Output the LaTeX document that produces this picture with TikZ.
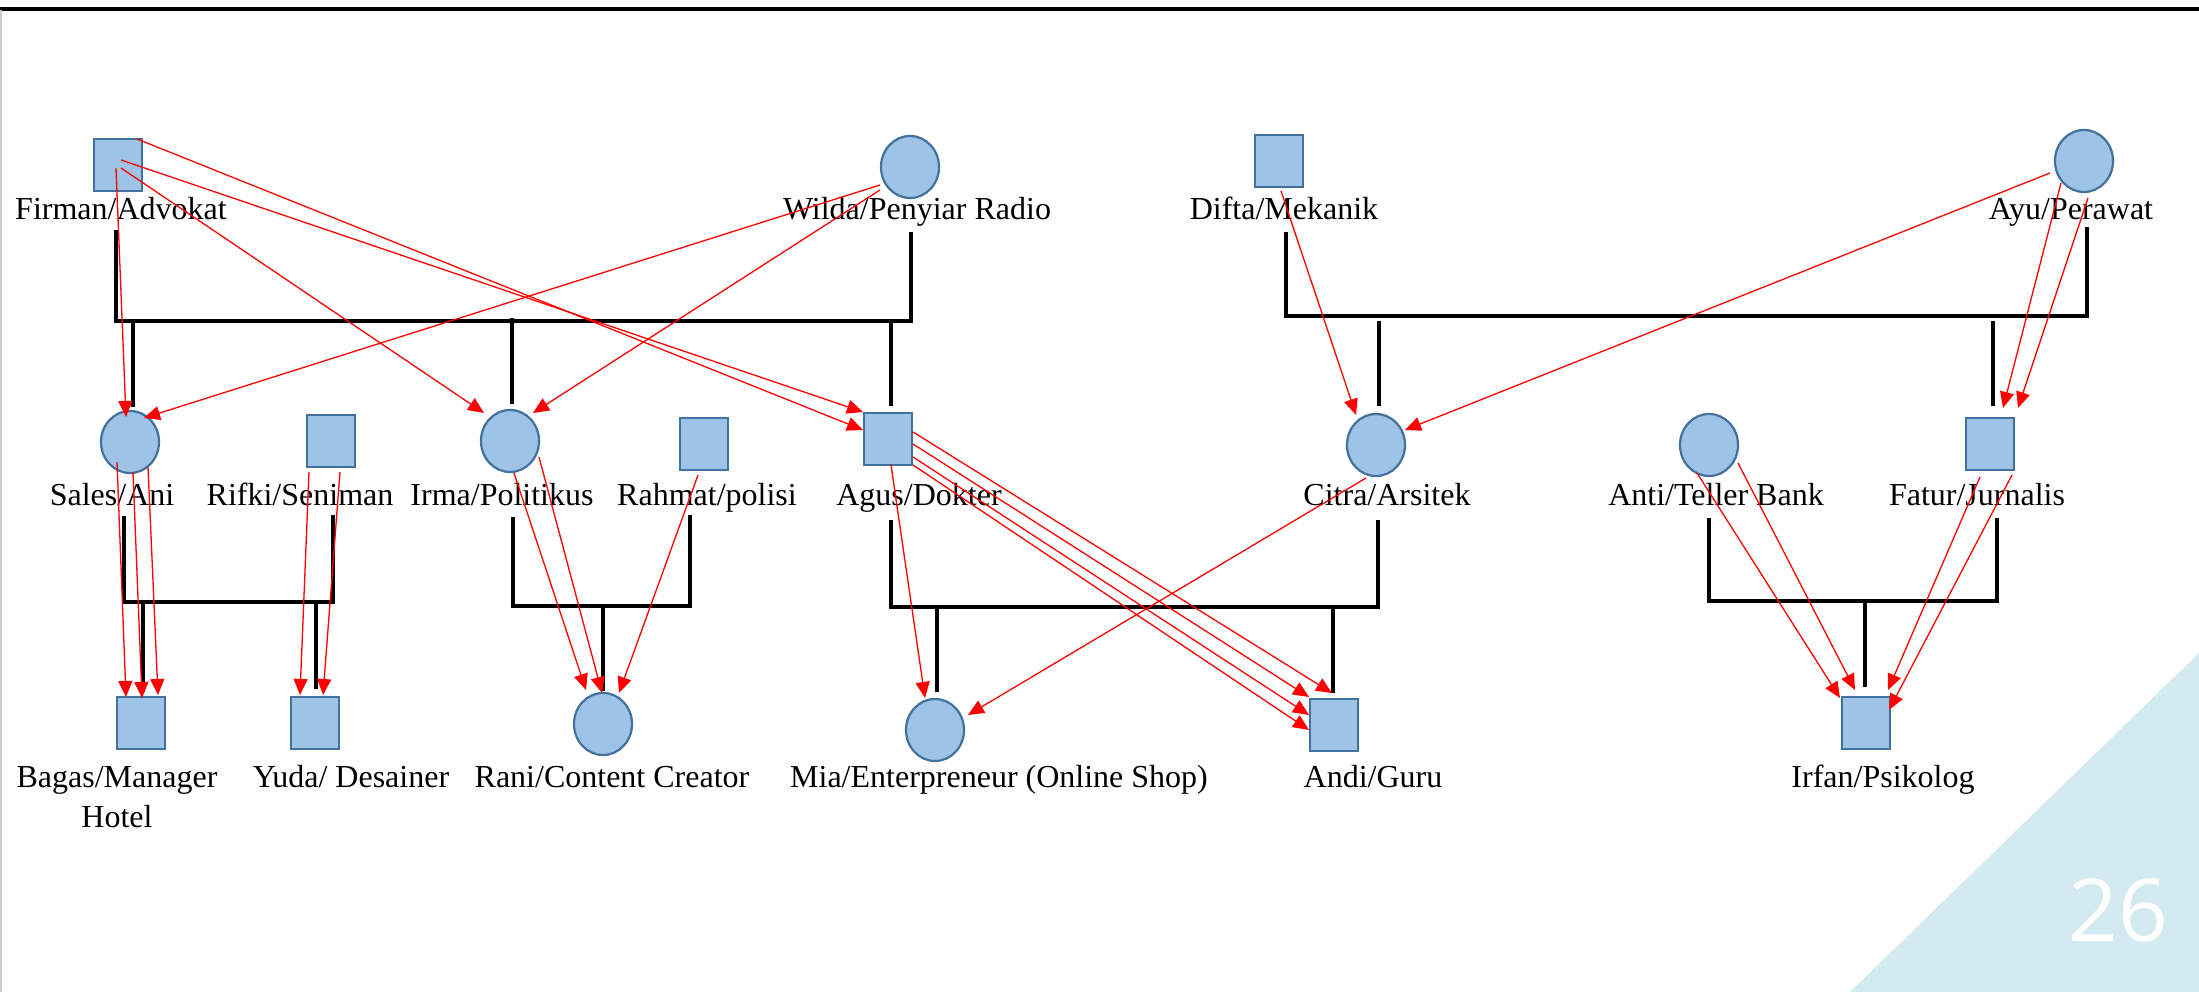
\documentclass[tikz,border=0pt]{standalone}
\usepackage{fontspec}
\setmainfont{Liberation Serif}
\newfontfamily\pagenumfont{Open Sans}
\usepackage{tikz}
\usetikzlibrary{shapes.geometric,arrows.meta}

\definecolor{shapefill}{RGB}{157,195,230}
\definecolor{shapeline}{RGB}{65,113,156}
\definecolor{cornerblue}{RGB}{211,234,241}

\tikzset{
  male/.style={rectangle, draw=shapeline, fill=shapefill, line width=0.022cm,
    minimum width=0.48cm, minimum height=0.52cm, inner sep=0pt},
  female/.style={ellipse, draw=shapeline, fill=shapefill, line width=0.022cm,
    minimum width=0.58cm, minimum height=0.62cm, inner sep=0pt},
  lbl/.style={anchor=base, inner sep=0pt, align=center,
    font=\fontsize{9.1}{11.4}\selectfont},
  ped/.style={black, line width=0.036cm},
  kin/.style={red, line width=0.013cm, -{Triangle[length=0.16cm,width=0.14cm]}}
}

\begin{document}
\begin{tikzpicture}[x=0.01cm,y=-0.01cm]

  \useasboundingbox (0,0) rectangle (2199,992);
  \fill[white] (0,0) rectangle (2199,992);
  \fill[cornerblue] (1850,992) -- (2199,653) -- (2199,992) -- cycle;
  \draw[line width=0.035cm] (0,9) -- (2199,9);
  \draw[black!20, line width=0.012cm] (1,10) -- (1,992);

  % first generation
  \node[male]   (fir) at (118,165) {};
  \node[female] (wil) at (910,167) {};
  \node[male]   (dif) at (1279,161) {};
  \node[female] (ayu) at (2084,161) {};

  % second generation
  \node[female] (ani) at (130,442) {};
  \node[male]   (rif) at (331,441) {};
  \node[female] (irm) at (510,441) {};
  \node[male]   (rah) at (704,444) {};
  \node[male]   (agu) at (888,439) {};
  \node[female] (cit) at (1376,445) {};
  \node[female] (ant) at (1709,445) {};
  \node[male]   (fat) at (1990,444) {};

  % third generation
  \node[male]   (bag) at (141,723) {};
  \node[male]   (yud) at (315,723) {};
  \node[female] (ran) at (603,724) {};
  \node[female] (mia) at (935,730) {};
  \node[male]   (andi) at (1334,725) {};
  \node[male]   (irf) at (1866,723) {};

  % names
  \node[lbl] (firtxt) at (121,220) {Firman/Advokat};
  \node[lbl] (wiltxt) at (917,220) {Wilda/Penyiar Radio};
  \node[lbl] (diftxt) at (1284,220) {Difta/Mekanik};
  \node[lbl] (ayutxt) at (2071,220) {Ayu/Perawat};

  \node[lbl] (anitxt) at (112,506) {Sales/Ani};
  \node[lbl] (riftxt) at (300,506) {Rifki/Seniman};
  \node[lbl] (irmtxt) at (502,506) {Irma/Politikus};
  \node[lbl] (rahtxt) at (707,506) {Rahmat/polisi};
  \node[lbl] (agutxt) at (919,506) {Agus/Dokter};
  \node[lbl] (cittxt) at (1387,506) {Citra/Arsitek};
  \node[lbl] (anttxt) at (1716,506) {Anti/Teller Bank};
  \node[lbl] (fattxt) at (1977,506) {Fatur/Jurnalis};

  \node[lbl] (bagtxt) at (117,828) {Bagas/Manager\\Hotel};
  \node[lbl] (yudtxt) at (351,788) {Yuda/ Desainer};
  \node[lbl] (rantxt) at (612,788) {Rani/Content Creator};
  \node[lbl] (miatxt) at (999,788) {Mia/Enterpreneur (Online Shop)};
  \node[lbl] (anditxt) at (1373,788) {Andi/Guru};
  \node[lbl] (irftxt) at (1883,788) {Irfan/Psikolog};

  % couples
  \draw[ped] (116,230) |- (911,321) -- (911,232);
  \draw[ped] (1286,232) |- (2087,316) -- (2087,227);
  \draw[ped] (124,516) |- (333,602) -- (333,515);
  \draw[ped] (513,517) |- (690,606) -- (690,515);
  \draw[ped] (891,520) |- (1378,607) -- (1378,520);
  \draw[ped] (1709,518) |- (1997,601) -- (1997,518);

  % children
  \draw[ped] (133,321) -- ([shift={(3,-3)}]ani.north);
  \draw[ped] (512,318) -- ([shift={(2,-5)}]irm.north);
  \draw[ped] (891,321) -- ([shift={(3,-6)}]agu.north);
  \draw[ped] (1379,321) -- ([shift={(3,-7)}]cit.north);
  \draw[ped] (1993,321) -- ([shift={(3,-11)}]fat.north);
  \draw[ped] (143,602) -- ([shift={(2,-4)}]bag.north);
  \draw[ped] (316,602) -- ([shift={(1,-7)}]yud.north);
  \draw[ped] (603,606) -- ([shift={(0,-1)}]ran.north);
  \draw[ped] (937,607) -- ([shift={(2,-6)}]mia.north);
  \draw[ped] (1333,608) -- ([shift={(-1,-5)}]andi.north);
  \draw[ped] (1865,601) -- ([shift={(-1,-9)}]irf.north);

  % inheritance
  \draw[kin] ([shift={(-2,3)}]fir.center) -- ([shift={(-4,-25)}]ani.center);
  \draw[kin] ([shift={(3,3)}]fir.center) -- ([shift={(-26,-28)}]irm.center);
  \draw[kin] ([shift={(3,-5)}]fir.center) -- ([shift={(-25,-27)}]agu.center);
  \draw[kin] ([shift={(19,-26)}]fir.center) -- ([shift={(-25,-9)}]agu.center);
  \draw[kin] ([shift={(-30,18)}]wil.center) -- ([shift={(14,-24)}]ani.center);
  \draw[kin] ([shift={(-30,23)}]wil.center) -- ([shift={(23,-28)}]irm.center);
  \draw[kin] ([shift={(2,30)}]dif.center) -- ([shift={(-20,-30)}]cit.center);
  \draw[kin] ([shift={(-34,12)}]ayu.center) -- ([shift={(29,-15)}]cit.center);
  \draw[kin] ([shift={(-23,22)}]ayu.center) -- ([shift={(13,-36)}]fat.center);
  \draw[kin] ([shift={(4,37)}]ayu.center) -- ([shift={(28,-36)}]fat.center);

  \draw[kin] ([shift={(-13,20)}]ani.center) -- ([shift={(-15,-26)}]bag.center);
  \draw[kin] ([shift={(3,30)}]ani.center) -- ([shift={(1,-25)}]bag.center);
  \draw[kin] ([shift={(18,25)}]ani.center) -- ([shift={(17,-28)}]bag.center);
  \draw[kin] ([shift={(-22,31)}]rif.center) -- ([shift={(-15,-28)}]yud.center);
  \draw[kin] ([shift={(9,31)}]rif.center) -- ([shift={(8,-28)}]yud.center);
  \draw[kin] ([shift={(4,32)}]irm.center) -- ([shift={(-17,-34)}]ran.center);
  \draw[kin] ([shift={(29,16)}]irm.center) -- ([shift={(-1,-31)}]ran.center);
  \draw[kin] ([shift={(-6,31)}]rah.center) -- ([shift={(16,-31)}]ran.center);
  \draw[kin] ([shift={(3,26)}]agu.center) -- ([shift={(-10,-32)}]mia.center);
  \draw[kin] ([shift={(25,-7)}]agu.center) -- ([shift={(-2,-32)}]andi.center);
  \draw[kin] ([shift={(25,5)}]agu.center) -- ([shift={(-25,-28)}]andi.center);
  \draw[kin] ([shift={(25,18)}]agu.center) -- ([shift={(-25,-10)}]andi.center);
  \draw[kin] ([shift={(25,26)}]agu.center) -- ([shift={(-25,5)}]andi.center);
  \draw[kin] ([shift={(-10,33)}]cit.center) -- ([shift={(33,-15)}]mia.center);
  \draw[kin] ([shift={(-12,28)}]ant.center) -- ([shift={(-26,-25)}]irf.center);
  \draw[kin] ([shift={(29,18)}]ant.center) -- ([shift={(-11,-33)}]irf.center);
  \draw[kin] ([shift={(-10,33)}]fat.center) -- ([shift={(22,-33)}]irf.center);
  \draw[kin] ([shift={(22,31)}]fat.center) -- ([shift={(23,-13)}]irf.center);

  % page number
  \node[anchor=base, inner sep=0pt, text=white,
    font=\pagenumfont\fontsize{24.7}{26}\selectfont] (pagenum) at (2118,942) {26};

\end{tikzpicture}
\end{document}
